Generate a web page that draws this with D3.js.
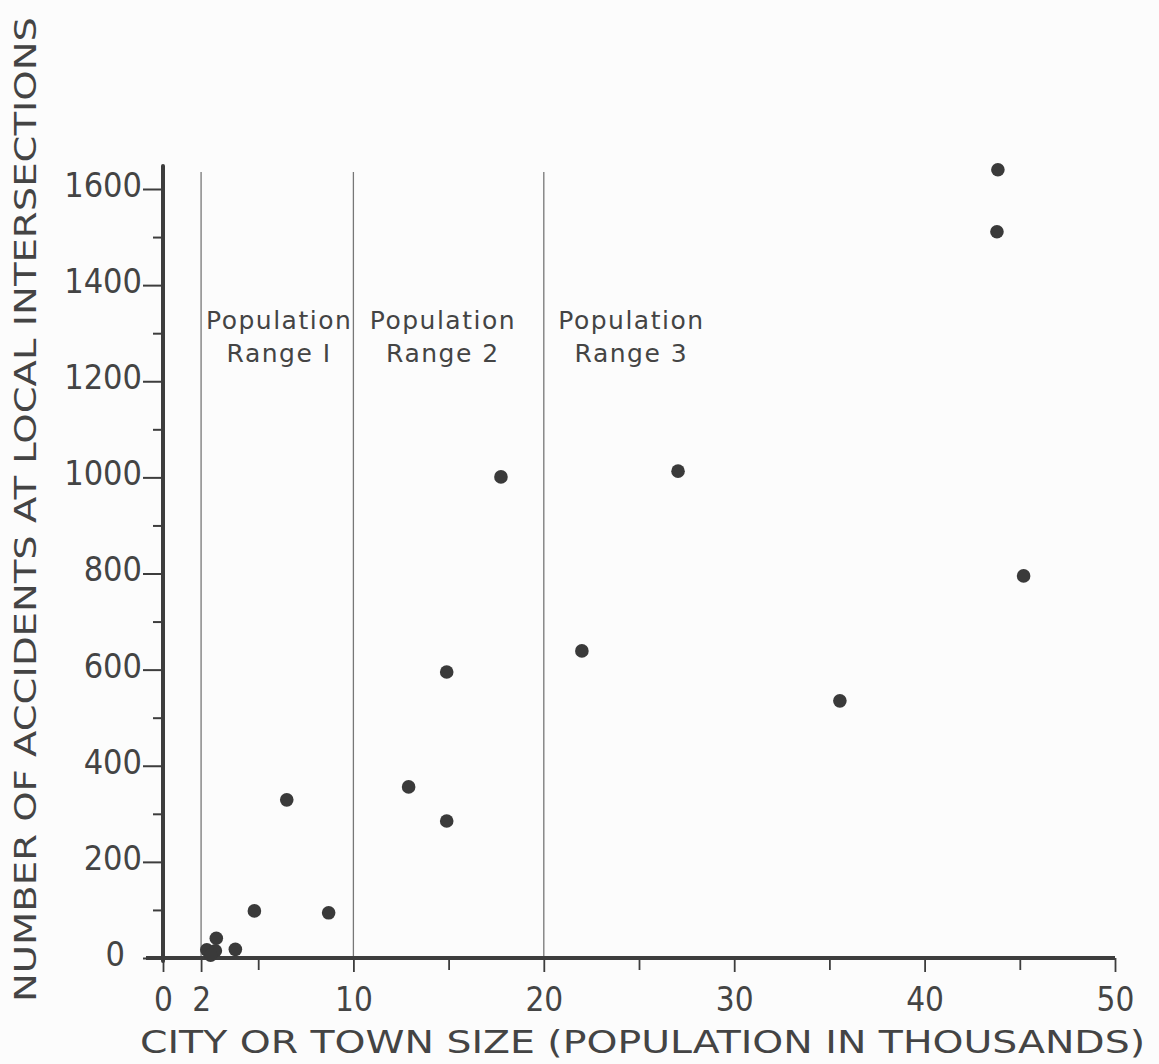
<!DOCTYPE html>
<html><head><meta charset="utf-8">
<script src="https://cdn.jsdelivr.net/npm/d3@7"></script>
<style>body{margin:0;background:#fcfcfc}svg{display:block}</style>
</head><body>
<script>
const pointsX = [43.85, 43.8, 27.05, 45.2, 35.55, 22.0, 17.75, 14.9, 12.9, 14.9, 6.5, 4.8, 8.7, 2.3, 2.8, 2.75, 3.8, 2.5];
const pointsY = [1640, 1511, 1013, 795, 535, 639, 1001, 595, 356, 285, 329, 98, 94, 17, 41, 15, 18, 6];
const xMajorTicks = [0, 2, 10, 20, 30, 40, 50];
const xMinorTicks = [5, 15, 25, 35, 45];
const yMajorTicks = [0, 200, 400, 600, 800, 1000, 1200, 1400, 1600];
const yMinorTicks = [100, 300, 500, 700, 900, 1100, 1300, 1500];
const rangeBounds = [2, 10, 20];
const rangeLabels = [["Population", "Range I", 6.1], ["Population", "Range 2", 14.7], ["Population", "Range 3", 24.6]];
const xTitle = "CITY OR TOWN SIZE (POPULATION IN THOUSANDS)";
const yTitle = "NUMBER OF ACCIDENTS AT LOCAL INTERSECTIONS";

const W = 1159, H = 1064;
const svg = d3.select("body").append("svg").attr("width", W).attr("height", H);
svg.append("rect").attr("width", W).attr("height", H).attr("fill", "#fcfcfc");

const x = d3.scaleLinear().domain([0, 50]).range([163, 1115]);
const y = d3.scaleLinear().domain([0, 1600]).range([958, 189]);
const ink = "#3d3d3d";
const font = "'DejaVu Sans', sans-serif";
const fontC = "'DejaVu Sans Condensed', 'DejaVu Sans', sans-serif";

// range divider lines
svg.selectAll(".rl").data(rangeBounds).enter().append("line")
  .attr("x1", d => x(d)).attr("x2", d => x(d))
  .attr("y1", 172).attr("y2", y(0))
  .attr("stroke", "#777").attr("stroke-width", 1.3);

// y axis
const yAxis = d3.axisLeft(y).tickValues(yMajorTicks).tickSize(20).tickPadding(1).tickFormat(d3.format("d"));
const gy = svg.append("g").attr("transform", `translate(${x(0)},0)`).call(yAxis);
gy.select(".domain").remove();
gy.selectAll(".tick line").attr("stroke", ink).attr("stroke-width", 2);
gy.selectAll(".tick text").attr("font-family", fontC).attr("font-size", 34).attr("fill", "#444")
  .attr("dy", "0.22em").attr("x", d => d === 0 ? -38 : -21);
const gyMinor = svg.append("g").attr("transform", `translate(${x(0)},0)`)
  .call(d3.axisLeft(y).tickValues(yMinorTicks).tickSize(10).tickFormat(""));
gyMinor.select(".domain").remove();
gyMinor.selectAll(".tick line").attr("stroke", ink).attr("stroke-width", 2);

// x axis
const xAxis = d3.axisBottom(x).tickValues(xMajorTicks).tickSize(14).tickPadding(16).tickFormat(d3.format("d"));
const gx = svg.append("g").attr("transform", `translate(0,${y(0)})`).call(xAxis);
gx.select(".domain").remove();
gx.selectAll(".tick line").attr("stroke", ink).attr("stroke-width", 1.8);
gx.selectAll(".tick text").attr("font-family", fontC).attr("font-size", 33).attr("fill", "#444");
const gxMinor = svg.append("g").attr("transform", `translate(0,${y(0)})`)
  .call(d3.axisBottom(x).tickValues(xMinorTicks).tickSize(12).tickFormat(""));
gxMinor.select(".domain").remove();
gxMinor.selectAll(".tick line").attr("stroke", ink).attr("stroke-width", 1.8);

// axis lines
svg.append("line").attr("x1", x(0)).attr("x2", x(0)).attr("y1", 166).attr("y2", y(0) + 3)
  .attr("stroke", ink).attr("stroke-width", 4).attr("stroke-linecap", "round");
svg.append("line").attr("x1", 146).attr("x2", x(50)).attr("y1", y(0)).attr("y2", y(0))
  .attr("stroke", ink).attr("stroke-width", 4);

// range labels
rangeLabels.forEach(r => {
  svg.append("text").attr("x", x(r[2])).attr("y", 329).attr("text-anchor", "middle")
    .attr("font-family", font).attr("font-size", 25).attr("fill", "#444").attr("letter-spacing", 1.5).text(r[0]);
  svg.append("text").attr("x", x(r[2])).attr("y", 362).attr("text-anchor", "middle")
    .attr("font-family", font).attr("font-size", 25).attr("fill", "#444").attr("letter-spacing", 1.5).text(r[1]);
});

// points
svg.selectAll(".pt").data(pointsX.map((d, i) => [d, pointsY[i]])).enter().append("circle")
  .attr("cx", d => x(d[0])).attr("cy", d => y(d[1])).attr("r", 6.8).attr("fill", "#3a3a3a");

// titles
svg.append("text").attr("x", 140).attr("y", 1053)
  .attr("textLength", 1005).attr("lengthAdjust", "spacingAndGlyphs")
  .attr("font-family", font).attr("font-size", 32).attr("fill", "#444").text(xTitle);
svg.append("text").attr("transform", "translate(36,1002) rotate(-90)")
  .attr("textLength", 985).attr("lengthAdjust", "spacingAndGlyphs")
  .attr("font-family", font).attr("font-size", 31).attr("fill", "#444").text(yTitle);
</script>
</body></html>
